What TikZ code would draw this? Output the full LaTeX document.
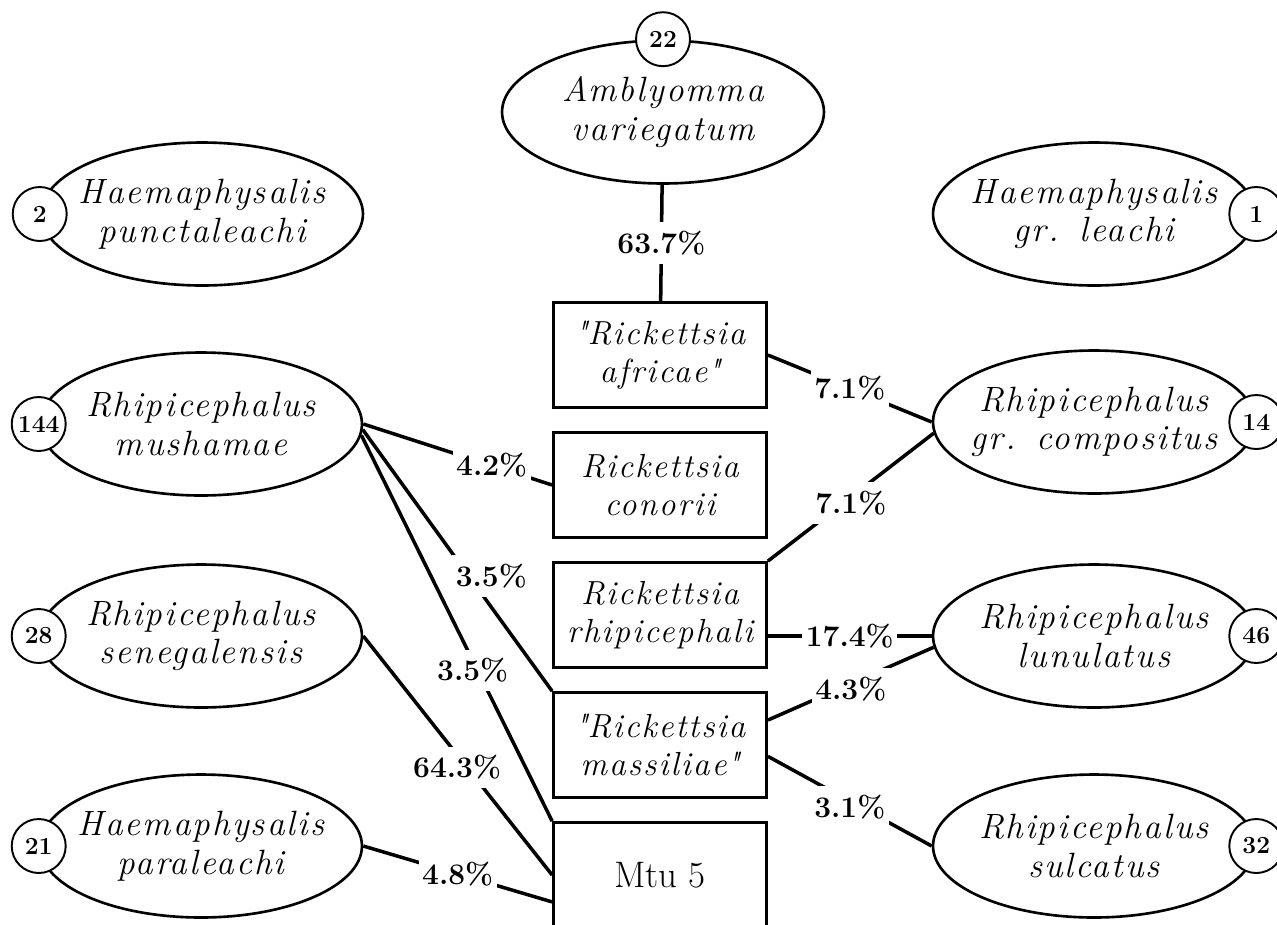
\documentclass[tikz,border=0pt]{standalone}
\usepackage{fontspec}
\newfontfamily\spacedfont{Latin Modern Roman}[LetterSpace=6]
\usetikzlibrary{shapes.geometric}

\begin{document}
\begin{tikzpicture}[x=0.02cm, y=-0.02cm]

    % Set the canvas size
    \useasboundingbox (0,0) rectangle (1277,924);

    % Define styles
    \tikzset{
        hostell/.style={ellipse, draw, line width=1.5pt, minimum width=6.44cm, minimum height=2.86cm,
            inner xsep=-0.6cm, inner ysep=0pt, align=center,
            font=\spacedfont\fontsize{20}{22}\selectfont\itshape},
        agentbox/.style={rectangle, draw, line width=1.6pt, minimum width=4.26cm, minimum height=2.1cm,
            inner sep=2pt, align=center,
            font=\spacedfont\fontsize{19}{22}\selectfont\itshape},
        badge/.style={circle, draw, fill=white, line width=1.1pt, minimum size=1.08cm, inner sep=0pt,
            font=\fontsize{14}{14}\selectfont\bfseries},
        link/.style={line width=2pt},
        pct/.style={fill=white, inner xsep=2pt, inner ysep=5pt, font=\fontsize{17}{17}\selectfont\bfseries},
    }

    % Tick species
    \node[hostell] (amb) at (663,112) {Amblyomma\\variegatum};
    \node[hostell] (punc) at (202,214) {Haemaphysalis\\punctaleachi};
    \node[hostell] (leach) at (1094,214) {Haemaphysalis\\gr.\hspace{0.6em}leachi};
    \node[hostell] (mush) at (201,424) {Rhipicephalus\\mushamae};
    \node[hostell] (comp) at (1094,422) {Rhipicephalus\\gr.\hspace{0.6em}compositus};
    \node[hostell] (sene) at (201,636) {Rhipicephalus\\senegalensis};
    \node[hostell] (lunu) at (1094,636) {Rhipicephalus\\lunulatus};
    \node[hostell] (para) at (201,846) {Haemaphysalis\\paraleachi};
    \node[hostell] (sulc) at (1094,846) {Rhipicephalus\\sulcatus};

    % Rickettsiae
    \node[agentbox] (afr) at (660,355) {\textquotedbl Rickettsia\\africae\textquotedbl};
    \node[agentbox] (con) at (660,485) {Rickettsia\\conorii};
    \node[agentbox] (rhi) at (660,615) {Rickettsia\\rhipicephali};
    \node[agentbox] (mas) at (660,745) {\textquotedbl Rickettsia\\massiliae\textquotedbl};
    \node[agentbox, font=\fontsize{21}{23}\selectfont] (mtu) at (660,875) {Mtu 5};

    % Infection rates
    \draw[link] (amb) -- node[pct] {63.7\%} (afr);
    \draw[link] (afr.east) -- node[pct] {7.1\%} (comp.west);
    \draw[link] (rhi.north east) -- node[pct, yshift=-0.12cm] {7.1\%} (comp.184);
    \draw[link] (rhi.east |- lunu.west) -- node[pct] {17.4\%} (lunu.west);
    \draw[link] (mas.13) -- node[pct, yshift=-0.1cm] {4.3\%} (lunu.184);
    \draw[link] (mas.-6) -- node[pct, yshift=-0.12cm] {3.1\%} (sulc.west);
    \draw[link] (mush.east) -- node[pct, pos=0.68] {4.2\%} (con.west);
    \draw[link] (mush.-2) -- node[pct, pos=0.56, xshift=0.45cm] {3.5\%} (mas.north west);
    \draw[link] (mush.-4) -- node[pct, pos=0.61, xshift=-0.1cm] {3.5\%} (mtu.north west);
    \draw[link] (sene.east) -- node[pct, pos=0.55, xshift=-0.2cm] {64.3\%} (mtu.west);
    \draw[link] (para.east) -- node[pct] {4.8\%} (mtu.194);

    % Number of ticks
    \node[badge] (namb) at (amb.north) {22};
    \node[badge] (npunc) at (punc.west) {2};
    \node[badge] (nleach) at (leach.east) {1};
    \node[badge] (nmush) at (mush.west) {144};
    \node[badge] (ncomp) at (comp.east) {14};
    \node[badge] (nsene) at (sene.west) {28};
    \node[badge] (nlunu) at (lunu.east) {46};
    \node[badge] (npara) at (para.west) {21};
    \node[badge] (nsulc) at (sulc.east) {32};

\end{tikzpicture}
\end{document}
